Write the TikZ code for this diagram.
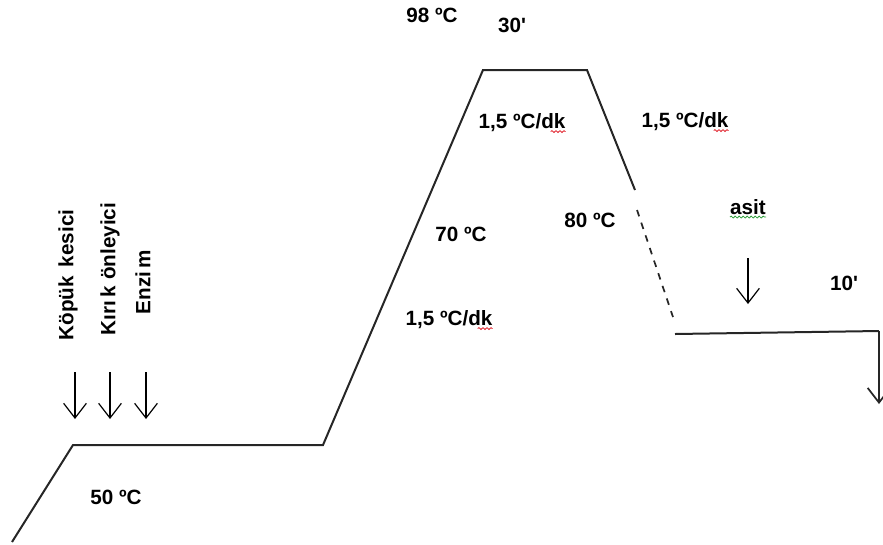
\documentclass[tikz,border=0pt]{standalone}
\usepackage{fontspec}
\setmainfont{Liberation Sans}
\usetikzlibrary{arrows.meta, positioning, decorations.pathmorphing}
\definecolor{curve}{HTML}{262626}
\definecolor{spellred}{HTML}{E0202A}
\definecolor{spellgreen}{HTML}{2E9E3A}

\begin{document}
\begin{tikzpicture}[x=0.75pt, y=-0.75pt,
  font=\fontsize{15.5}{19}\selectfont\bfseries,
  lbl/.style={inner sep=0pt},
  side/.style={inner sep=0pt, rotate=90},
  add/.style={-{Straight Barb[length=11pt, width=17pt]}, line width=0.9pt},
  squig/.style={decorate, decoration={snake, amplitude=0.7pt, segment length=3pt}, line width=0.6pt}]
  \useasboundingbox (0,0) rectangle (883,544);

  % temperature profile
  \coordinate (p0) at (12,542);
  \coordinate (p1) at (73,445);
  \coordinate (p2) at (323,445);
  \coordinate (p3) at (483,70);
  \coordinate (p4) at (587,70);
  \coordinate (p5) at (635,190);
  \coordinate (p6) at (637,210);
  \coordinate (p7) at (673,317);
  \coordinate (p8) at (675,334);
  \coordinate (p9) at (879,331);
  \coordinate (p10) at (879,404);
  \draw[curve, line width=1.5pt] (p0) -- (p1) -- (p2) -- (p3) -- (p4) -- (p5);
  \draw[curve, line width=1.3pt, dash pattern=on 5pt off 5pt] (p6) -- (p7);
  \draw[curve, line width=1.5pt] (p8) -- (p9);
  \draw[curve, add, line width=1.3pt] (p9) -- (p10);

  % labels
  \node[lbl] (t98) at (432,15) {98 ºC};
  \node[lbl] (t30) at (512,25) {30\textquotesingle};
  \node[lbl] (r1) at (522,123) {1,5 ºC/dk};
  \node[lbl] (r2) at (685,122) {1,5 ºC/dk};
  \node[lbl] (t70) at (461,234) {70 ºC};
  \node[lbl] (t80) at (590,220) {80 ºC};
  \node[lbl] (r3) at (449,320) {1,5 ºC/dk};
  \node[lbl] (t50) at (116,497) {50 ºC};
  \node[lbl] (asit) at (748,207) {asit};
  \node[lbl] (t10) at (844,283) {10\textquotesingle};
  \foreach \r in {r1,r2,r3}{
    \draw[spellred, squig] ([xshift=-1.12em, yshift=-2pt]\r.base east) -- ([yshift=-2pt]\r.base east);
  }
  \draw[spellgreen, squig] ([yshift=-2pt]asit.base west) -- ([yshift=-2pt]asit.base east);

  % additions at 50 C
  \node[side] (kopuk) at (68,275) {Köpük\, kesici};
  \node[side] (kirik) at (110,269) {Kırı\,k önleyici};
  \node[side] (enzim) at (143,282) {Enzi\,m};
  \foreach \x/\n in {75/a, 110/b, 146/c}{
    \coordinate (\n top) at (\x,372);
    \coordinate (\n bot) at (\x,419);
    \draw[add] (\n top) -- (\n bot);
  }
  \coordinate (d top) at (748,258);
  \coordinate (d bot) at (748,304);
  \draw[add] (d top) -- (d bot);
\end{tikzpicture}
\end{document}
